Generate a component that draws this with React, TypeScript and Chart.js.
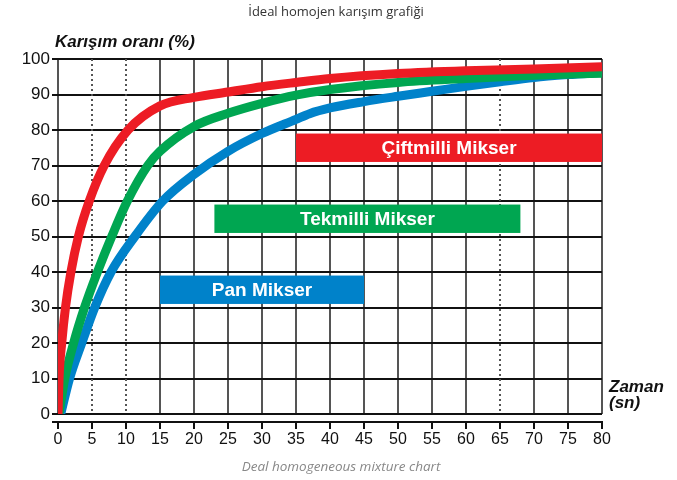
import React, { useEffect, useRef } from 'react';
import { Chart, registerables } from 'chart.js';

Chart.register(...registerables);

const TITLE = 'İdeal homojen karışım grafiği';
const FOOTER = 'Deal homogeneous mixture chart';
const Y_TITLE = 'Karışım oranı (%)';
const X_TITLE = ['Zaman', '(sn)'];

const xTicks = [0, 5, 10, 15, 20, 25, 30, 35, 40, 45, 50, 55, 60, 65, 70, 75, 80];
const dottedX = [5, 10, 65];

const seriesNames = ['Çiftmilli Mikser', 'Tekmilli Mikser', 'Pan Mikser'];
const seriesColors = ['#ED1C24', '#00A651', '#0082CA'];

const redTime = [0, 0.15, 0.55, 1.1, 1.9, 3, 4.6, 6.8, 10.3, 15, 20, 25, 30, 35, 40, 50, 60, 70, 80];
const redValue = [0, 10, 20, 30, 40, 50, 60, 70, 80, 86.8, 89.2, 90.7, 92.2, 93.4, 94.5, 95.9, 96.7, 97.2, 97.8];

const greenTime = [0.15, 1.0, 2.3, 3.9, 5.8, 7.9, 10.2, 13.2, 15, 20, 25, 30, 35, 40, 50, 60, 70, 80];
const greenValue = [0, 10, 20, 30, 40, 50, 60, 70, 74, 81, 84.7, 87.5, 89.8, 91.4, 93.4, 94.5, 95.4, 96];

const blueTime = [0.4, 1.7, 3.5, 5.4, 7.8, 11.3, 15.4, 20, 25, 30, 35, 37, 40, 45, 50, 55, 60, 65, 70, 75, 80];
const blueValue = [0, 10, 20, 30, 40, 50, 60, 67.5, 74, 79, 83, 84.6, 86.2, 88, 89.5, 90.9, 92.3, 93.6, 94.8, 95.6, 96.2];

const boxXStart = [35, 23, 15];
const boxXEnd = [80, 68, 45];
const boxYLow = [71, 51, 31];
const boxYHigh = [79, 59, 39];

const SANS = '"Liberation Sans", Arial, sans-serif';
const OPEN = '"Open Sans", sans-serif';

const decorPlugin = {
  id: 'decor',
  beforeDatasetsDraw(chart: any) {
    const { ctx, chartArea, scales } = chart;
    const x = scales.x;
    const y = scales.y;
    ctx.save();
    ctx.strokeStyle = '#555';
    ctx.lineWidth = 2;
    ctx.setLineDash([2, 3]);
    dottedX.forEach((v) => {
      const px = Math.round(x.getPixelForValue(v));
      ctx.beginPath();
      ctx.moveTo(px, chartArea.top);
      ctx.lineTo(px, chartArea.bottom);
      ctx.stroke();
    });
    ctx.setLineDash([]);
    seriesNames.forEach((name, i) => {
      const x0 = x.getPixelForValue(boxXStart[i]);
      const x1 = x.getPixelForValue(boxXEnd[i]);
      const y0 = y.getPixelForValue(boxYHigh[i]);
      const y1 = y.getPixelForValue(boxYLow[i]);
      ctx.fillStyle = seriesColors[i];
      ctx.fillRect(x0, y0, x1 - x0, y1 - y0);
      ctx.fillStyle = '#ffffff';
      ctx.font = `bold 19px ${SANS}`;
      ctx.textAlign = 'center';
      ctx.textBaseline = 'middle';
      ctx.fillText(name, (x0 + x1) / 2, (y0 + y1) / 2 + 1);
    });
    ctx.restore();
  },
  afterDraw(chart: any) {
    const { ctx, chartArea, scales } = chart;
    const x = scales.x;
    ctx.save();
    const axisY = chartArea.bottom + 8;
    ctx.strokeStyle = '#111';
    ctx.lineWidth = 2;
    ctx.beginPath();
    ctx.moveTo(chartArea.left - 6, axisY);
    ctx.lineTo(chartArea.right + 1, axisY);
    ctx.stroke();
    xTicks.forEach((v) => {
      const px = Math.round(x.getPixelForValue(v));
      ctx.beginPath();
      ctx.moveTo(px, axisY);
      ctx.lineTo(px, axisY + 7);
      ctx.stroke();
    });
    ctx.fillStyle = '#111';
    ctx.font = `italic bold 17px ${SANS}`;
    ctx.textAlign = 'left';
    ctx.textBaseline = 'alphabetic';
    ctx.fillText(Y_TITLE, 55, 47);
    ctx.fillText(X_TITLE[0], 609, 392);
    ctx.fillText(X_TITLE[1], 609, 408);
    ctx.fillStyle = '#333';
    ctx.font = `13px ${OPEN}`;
    ctx.textAlign = 'center';
    ctx.fillText(TITLE, 336, 16);
    ctx.fillStyle = '#888';
    ctx.font = `italic 13.5px ${OPEN}`;
    ctx.fillText(FOOTER, 341, 471);
    ctx.restore();
  },
};

export default function App() {
  const ref = useRef<HTMLCanvasElement | null>(null);
  useEffect(() => {
    if (!ref.current) return;
    const mk = (t: number[], v: number[]) => t.map((tt, i) => ({ x: tt, y: v[i] }));
    const chart = new Chart(ref.current, {
      type: 'line',
      data: {
        datasets: [
          { label: seriesNames[0], data: mk(redTime, redValue) },
          { label: seriesNames[1], data: mk(greenTime, greenValue) },
          { label: seriesNames[2], data: mk(blueTime, blueValue) },
        ].map((d, i) => ({
          ...d,
          borderColor: seriesColors[i],
          backgroundColor: seriesColors[i],
          borderWidth: 9,
          pointRadius: 0,
          cubicInterpolationMode: 'monotone' as const,
          fill: false,
        })),
      },
      options: {
        responsive: false,
        animation: false,
        events: [],
        layout: { padding: { left: 0, right: 75, top: 59, bottom: 16 } },
        plugins: { legend: { display: false }, tooltip: { enabled: false }, title: { display: false } },
        scales: {
          x: {
            type: 'linear',
            min: 0,
            max: 80,
            afterFit: (s: any) => { s.height = 50; },
            afterBuildTicks: (s: any) => { s.ticks = xTicks.map((v) => ({ value: v })); },
            grid: {
              color: (c: any) => (dottedX.includes(c.tick?.value) ? 'rgba(0,0,0,0)' : '#555'),
              lineWidth: 2,
              drawTicks: false,
            },
            border: { display: false },
            ticks: { font: { size: 16, family: SANS }, color: '#111', padding: 16, maxRotation: 0, autoSkip: false },
          },
          y: {
            type: 'linear',
            min: 0,
            max: 100,
            afterFit: (s: any) => { s.width = 58; },
            grid: { color: '#111', lineWidth: 2, drawTicks: true, tickLength: 6 },
            border: { display: false },
            ticks: { stepSize: 10, font: { size: 17, family: SANS }, color: '#111', padding: 2 },
          },
        },
      },
      plugins: [decorPlugin],
    });
    return () => chart.destroy();
  }, []);
  return (
    <div style={{ position: 'fixed', left: 0, top: 0, width: 677, height: 480, background: '#fff' }}>
      <canvas ref={ref} width={677} height={480} />
    </div>
  );
}
